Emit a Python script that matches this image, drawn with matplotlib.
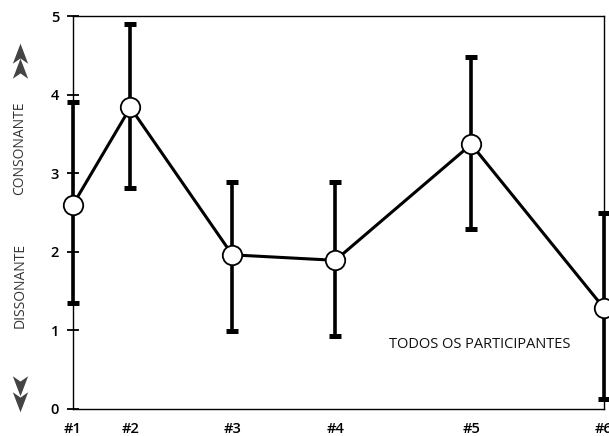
import matplotlib
matplotlib.use("Agg")
import matplotlib.pyplot as plt
from matplotlib.path import Path
from matplotlib.lines import Line2D
import numpy as np

plt.rcParams['font.family'] = ['Open Sans', 'DejaVu Sans']

# ---- data ----
labels = ['#1', '#2', '#3', '#4', '#5', '#6']
x_pos = [1.0, 1.54, 2.5, 3.47, 4.75, 6.0]
means = [2.60, 3.84, 1.96, 1.89, 3.37, 1.28]
err_low = [1.26, 1.03, 0.97, 0.97, 1.08, 1.16]
err_high = [1.31, 1.06, 0.93, 1.00, 1.11, 1.21]
y_ticks = [0, 1, 2, 3, 4, 5]
annotation = 'TODOS OS PARTICIPANTES'
up_label = 'CONSONANTE'
down_label = 'DISSONANTE'

fig = plt.figure(figsize=(6.09, 4.36), dpi=100)
ax = fig.add_axes([73/609, 27.5/436, 531/609, 392/436])

eb = ax.errorbar(x_pos, means, yerr=[err_low, err_high], fmt='none',
                 ecolor='black', elinewidth=2.6, capsize=4.3, capthick=3.6, zorder=2)
for art in list(eb.lines[1]) + list(eb.lines[2]):
    art.set_clip_on(False)
ax.plot(x_pos, means, color='black', lw=2.2, zorder=3,
        marker='o', markersize=14, markerfacecolor='white',
        markeredgecolor='black', markeredgewidth=1.3, clip_on=False)

ax.set_xlim(1.0, 6.0)
ax.set_ylim(0, 5)
ax.set_yticks(y_ticks)
ax.set_yticklabels([str(t) for t in y_ticks], fontsize=10.5, fontweight='semibold')
ax.set_xticks(x_pos)
ax.set_xticklabels(labels, fontsize=10.5, fontweight='semibold')
ax.tick_params(axis='y', direction='inout', length=8, width=1.3, pad=6)
ax.tick_params(axis='x', length=0, pad=10)
for s in ax.spines.values():
    s.set_linewidth(1.0)

fig.text(480/609, 1 - 345/436, annotation, fontsize=10.5, ha='center', va='center',
         color='#111111')

# left side labels
fig.text(20/609, 1 - 148/436, up_label, rotation=90, ha='center', va='center',
         fontsize=10, color='#333333')
fig.text(20/609, 1 - 285/436, down_label, rotation=90, ha='center', va='center',
         fontsize=10, color='#333333')

# arrowhead marker
arrow_up = Path([(0, 1), (0.65, -0.7), (0, -0.25), (-0.65, -0.7), (0, 1)],
                [Path.MOVETO, Path.LINETO, Path.LINETO, Path.LINETO, Path.CLOSEPOLY])
arrow_down = Path([(0, -1), (0.65, 0.7), (0, 0.25), (-0.65, 0.7), (0, -1)],
                  [Path.MOVETO, Path.LINETO, Path.LINETO, Path.LINETO, Path.CLOSEPOLY])
for yy, path in [(55, arrow_up), (70, arrow_up), (384, arrow_down), (400, arrow_down)]:
    fig.add_artist(Line2D([20/609], [1 - yy/436], transform=fig.transFigure,
                          marker=path, markersize=17, color='#444444',
                          markeredgewidth=0, linestyle='none'))

fig.savefig('out.png', dpi=100)
